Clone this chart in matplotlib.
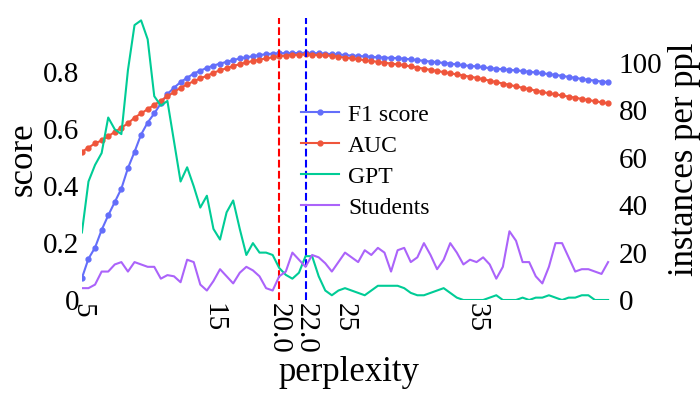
import matplotlib
matplotlib.use("Agg")
import matplotlib.pyplot as plt
import numpy as np

ppl = [5 + 0.5 * i for i in range(81)]
f1 = [0.077, 0.145, 0.184, 0.246, 0.297, 0.344, 0.391, 0.463, 0.52, 0.581,
      0.623, 0.655, 0.69, 0.723, 0.745, 0.765, 0.78, 0.795, 0.805, 0.815,
      0.823, 0.83, 0.836, 0.842, 0.848, 0.852, 0.856, 0.86, 0.863, 0.865,
      0.866, 0.867, 0.867, 0.867, 0.868, 0.867, 0.866, 0.865, 0.863, 0.862,
      0.86, 0.858, 0.857, 0.855, 0.854, 0.852, 0.851, 0.85, 0.849, 0.847,
      0.845, 0.842, 0.84, 0.837, 0.835, 0.832, 0.83, 0.827, 0.824, 0.822,
      0.82, 0.817, 0.814, 0.812, 0.81, 0.808, 0.806, 0.804, 0.801, 0.799,
      0.796, 0.793, 0.79, 0.787, 0.783, 0.78, 0.776, 0.773, 0.77, 0.767, 0.765]
auc = [0.52, 0.535, 0.55, 0.56, 0.575, 0.59, 0.605, 0.62, 0.64, 0.655,
       0.67, 0.685, 0.70, 0.715, 0.73, 0.745, 0.757, 0.768, 0.778, 0.787,
       0.798, 0.806, 0.814, 0.821, 0.828, 0.834, 0.839, 0.844, 0.848, 0.852,
       0.856, 0.858, 0.86, 0.861, 0.862, 0.861, 0.86, 0.859, 0.857, 0.854,
       0.851, 0.848, 0.845, 0.842, 0.839, 0.836, 0.833, 0.83, 0.827, 0.824,
       0.82, 0.816, 0.812, 0.808, 0.804, 0.8, 0.796, 0.792, 0.788, 0.784,
       0.78, 0.775, 0.77, 0.765, 0.76, 0.755, 0.75, 0.745, 0.74, 0.735,
       0.73, 0.726, 0.722, 0.718, 0.714, 0.71, 0.706, 0.702, 0.698, 0.694, 0.69]
gpt = [28.5, 50, 57, 62, 77, 72, 70, 97, 116, 118,
       110, 86, 82, 84, 67, 50, 56, 48, 39, 44,
       30, 25.5, 37, 42, 30, 19, 24, 20, 20, 19,
       13.5, 10.6, 9, 11.5, 18.5, 18.5, 10, 4, 2, 4,
       5, 4, 3, 2, 4, 6, 6, 6, 6, 5,
       3, 2, 2, 3, 4, 5, 3, 1, 0, 0,
       0, 0, 1, 2, 0, 0, 0, 1, 0, 1,
       1, 2, 1, 0, 1, 1, 2, 2, 0, 0, 0]
students = [5, 5, 6.5, 12, 12, 15, 16, 12, 16, 15,
            14, 14, 9, 10.5, 10, 7.5, 17, 16, 6.5, 4,
            8, 13, 10, 7, 11.5, 14, 12.5, 10, 5, 4,
            10, 12, 20, 17, 14, 19, 18, 15.5, 12, 16,
            20, 18, 16, 21, 19, 22, 20, 12, 21, 22,
            16, 18, 24, 19, 13, 17, 24, 20, 15, 17,
            16, 18, 15, 9, 14, 29, 25, 16, 16, 10,
            7, 14, 24, 24, 18, 12, 13, 13, 12, 11, 16]
xticks = [5, 15, 20.0, 22.0, 25, 35]
xticklabels = ["5", "15", "20.0", "22.0", "25", "35"]

plt.rcParams["font.family"] = "Liberation Serif"
fig = plt.figure(figsize=(7, 4), dpi=100)
ax = fig.add_axes([0.117, 0.25, 0.763, 0.705])
ax2 = ax.twinx()

c_f1, c_auc, c_gpt, c_st = "#636efa", "#ef553b", "#00cc96", "#ab63fa"
l1, = ax.plot(ppl, f1, color=c_f1, marker="o", ms=3.5, lw=1.5, label="F1 score")
l2, = ax.plot(ppl, auc, color=c_auc, marker="o", ms=3.5, lw=1.5, label="AUC")
l3, = ax2.plot(ppl, gpt, color=c_gpt, lw=1.5, label="GPT")
l4, = ax2.plot(ppl, students, color=c_st, lw=1.5, label="Students")
ax.axvline(20.0, color="red", ls="--", lw=1.5)
ax.axvline(22.0, color="blue", ls="--", lw=1.5)

ax.set_xlim(5, 45.6)
ax.set_ylim(0, 0.99)
ax2.set_ylim(0, 119)
ax.set_yticks([0, 0.2, 0.4, 0.6, 0.8])
ax.set_yticklabels(["0", "0.2", "0.4", "0.6", "0.8"])
ax2.set_yticks([0, 20, 40, 60, 80, 100])
ax.set_xticks(xticks)
ax.set_xticklabels(xticklabels, rotation=270)
for a in (ax, ax2):
    for s in a.spines.values():
        s.set_visible(False)
    a.tick_params(length=0, labelsize=21, pad=2)
ax.set_xlabel("perplexity", fontsize=25, labelpad=2)
ax.set_ylabel("score", fontsize=25, labelpad=2)
ax2.set_ylabel("instances per ppl", fontsize=25, labelpad=4)
ax.legend(handles=[l1, l2, l3, l4], loc="upper left", bbox_to_anchor=(0.37, 0.77),
          frameon=False, fontsize=17, handlelength=1.6, handletextpad=0.4,
          labelspacing=0.4)
fig.savefig("out.png", dpi=100)
